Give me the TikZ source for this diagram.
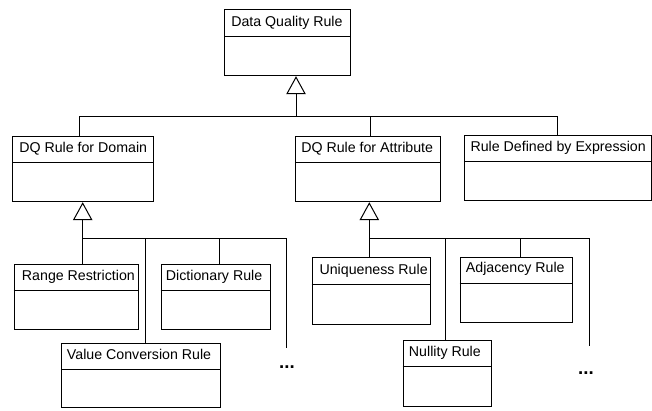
\documentclass[tikz,border=0pt]{standalone}
\usepackage{fontspec}
\setmainfont{Liberation Sans}
\usetikzlibrary{arrows.meta,fit}

% class box: outer frame, name compartment line, and the class name
\newcommand{\umlclass}[9]{%
  \node[classbox, fit={(#2,#3) (#4,#5)}] (#1) {};
  \coordinate (#1-h) at (0,#6);
  \draw[conn] (#1.west |- #1-h) -- (#1.east |- #1-h);
  \node[classname] (#1-t) at (#7,#8) {#9};
}

\tikzset{
  classbox/.style={draw=black, line width=0.75pt, rectangle, inner sep=0pt},
  classname/.style={anchor=base west, inner sep=0pt,
    font=\fontsize{10.65}{12}\selectfont},
  conn/.style={draw=black, line width=0.75pt},
  gen/.style={conn, -{Triangle[open, length=13.5pt, width=14.6pt, line width=0.75pt]}},
  more/.style={anchor=base, inner sep=0pt, font=\fontsize{14}{14}\selectfont\bfseries}
}

\begin{document}
\begin{tikzpicture}[x=0.75pt, y=-0.75pt]
  \useasboundingbox (0,0) rectangle (652,410);

  % classes
  \umlclass{dqr}{224.7}{10}{350}{75.7}{37}{231}{26.7}{Data Quality Rule}
  \umlclass{dom}{12.7}{136.5}{153}{201.7}{162}{19}{152.7}{DQ Rule for Domain}
  \umlclass{attr}{295.3}{136}{440}{201.7}{162.3}{301}{152.7}{DQ Rule for Attribute}
  \umlclass{rde}{464.3}{135}{651}{200.7}{161.7}{470.3}{151.7}{Rule Defined by Expression}
  \umlclass{rr}{14}{264.3}{138.3}{329.3}{290.3}{21.7}{280}{Range Restriction}
  \umlclass{dict}{161}{264.3}{270}{329.3}{290.3}{165.7}{280}{Dictionary Rule}
  \umlclass{vc}{61.7}{343.3}{220}{407.7}{369}{66.7}{359.3}{Value Conversion Rule}
  \umlclass{uniq}{312}{257.7}{430.3}{324}{284.3}{319.3}{274}{Uniqueness Rule}
  \umlclass{adj}{460}{257.3}{572.7}{322.7}{283.3}{465.7}{272}{Adjacency Rule}
  \umlclass{null}{403}{340.7}{491}{406.7}{366.7}{408.7}{356}{Nullity Rule}

  % generalisation into Data Quality Rule
  \coordinate (b0m) at (296,116);
  \coordinate (b0l) at (79.3,116);
  \coordinate (b0r) at (557.7,116);
  \coordinate (b0c) at (370,116);
  \draw[gen] (b0m) -- (dqr.south -| b0m);
  \draw[conn] (dom.north -| b0l) |- (b0r) -- (rde.north -| b0r);
  \draw[conn] (b0c) -- (attr.north -| b0c);

  % generalisation into DQ Rule for Domain
  \coordinate (b1m) at (82.7,238.3);
  \coordinate (b1v) at (145.7,238.3);
  \coordinate (b1d) at (219.3,238.3);
  \coordinate (b1e) at (286,238.3);
  \coordinate (b1end) at (286,348.3);
  \draw[gen] (b1m) -- (dom.south -| b1m);
  \draw[conn] (rr.north -| b1m) -- (b1m) -- (b1e) -- (b1end);
  \draw[conn] (b1v) -- (vc.north -| b1v);
  \draw[conn] (b1d) -- (dict.north -| b1d);
  \node[more] (dots1) at (287,368) {...};

  % generalisation into DQ Rule for Attribute
  \coordinate (b2m) at (369.3,238.3);
  \coordinate (b2n) at (445.3,238.3);
  \coordinate (b2a) at (520,238.3);
  \coordinate (b2e) at (589,238.3);
  \coordinate (b2end) at (589,346);
  \draw[gen] (b2m) -- (attr.south -| b2m);
  \draw[conn] (uniq.north -| b2m) -- (b2m) -- (b2e) -- (b2end);
  \draw[conn] (b2n) -- (null.north -| b2n);
  \draw[conn] (b2a) -- (adj.north -| b2a);
  \node[more] (dots2) at (586,374.5) {...};
\end{tikzpicture}
\end{document}
